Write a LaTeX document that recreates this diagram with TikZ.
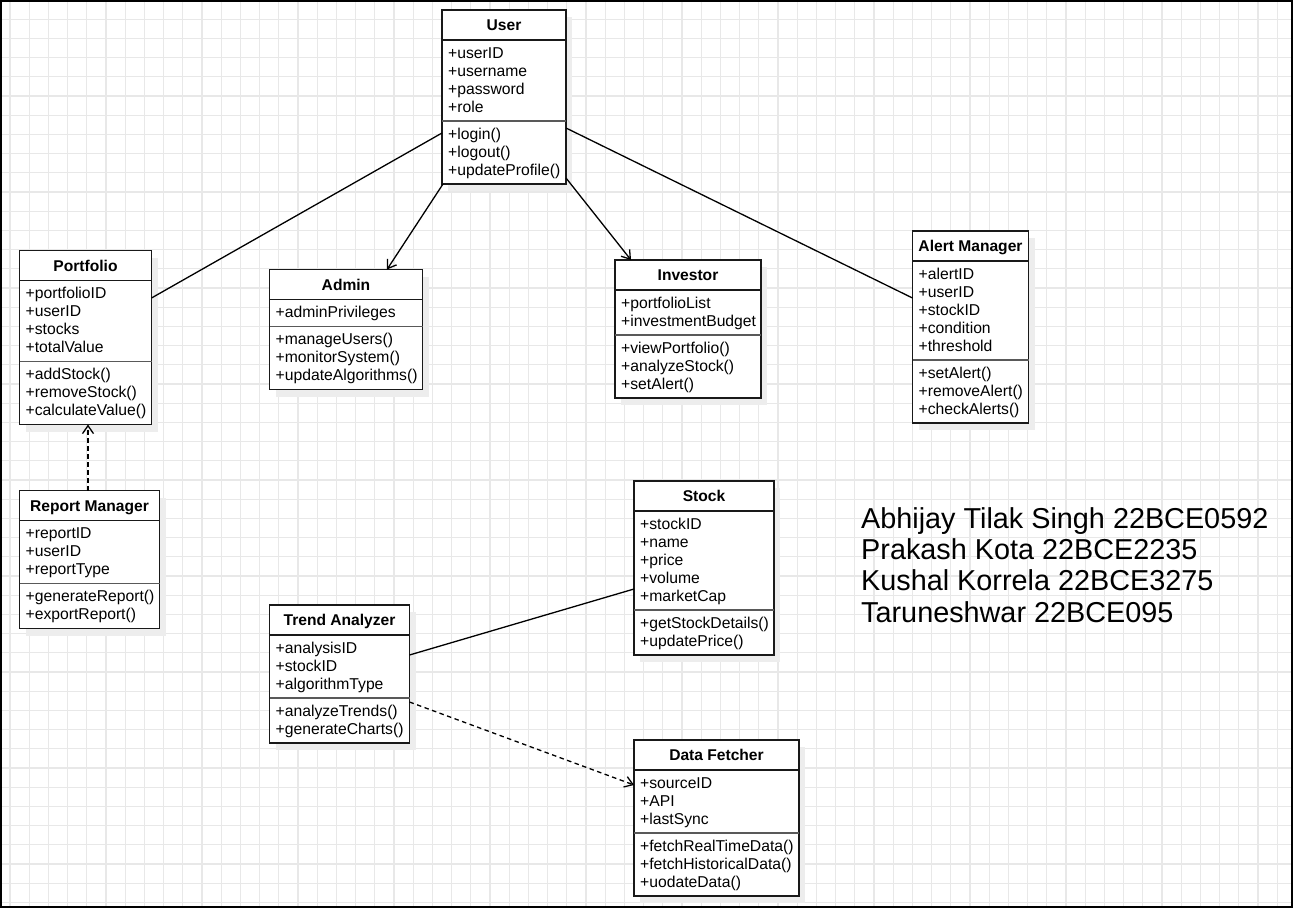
\documentclass[tikz,border=0pt]{standalone}
\usepackage{fontspec}
\setmainfont{Liberation Sans}
\usetikzlibrary{calc,arrows.meta}
\tikzset{
  gridline/.style={draw=black!9, line width=1.2pt},
  frameline/.style={draw=black, line width=1.6pt},
  boxshade/.style={fill=black!7},
  classbox/.style={draw=black!90, fill=white, line width=1.4pt, inner sep=0pt, outer sep=0pt},
  hdiv/.style={draw=black!90, line width=1.3pt},
  mdiv/.style={draw=black!65, line width=1.6pt},
  classtitle/.style={font=\bfseries\fontsize{15.6}{18}\selectfont, anchor=base, inner sep=0pt},
  classtext/.style={font=\fontsize{15.7}{18}\selectfont, anchor=base west, inner sep=0pt},
  nametext/.style={font=\fontsize{28.8}{31}\selectfont, anchor=base west, inner sep=0pt},
  conn/.style={draw=black, line width=1.3pt},
  openarrow/.style={-{Straight Barb[length=8pt,width=11pt]}},
  dashedconn/.style={dash pattern=on 4.5pt off 3.5pt},
}
\newcommand{\umlclass}[9]{%
  \pgfmathsetmacro{\ha}{18*#7+9}%
  \pgfmathsetmacro{\hm}{18*#9+9}%
  \pgfmathsetmacro{\htot}{30+\ha+\hm}%
  \fill[boxshade] ({#2+6},{#3+7}) rectangle ++(#4,\htot);
  \node[classbox, minimum width=#4pt, minimum height=\htot pt, anchor=north west] (#1) at (#2,#3) {};
  \draw[hdiv] ($(#1.north west)+(0,30)$) -- ($(#1.north east)+(0,30)$);
  \draw[mdiv] ($(#1.north west)+(0,30+\ha)$) -- ($(#1.north east)+(0,30+\ha)$);
  \node[classtitle] (#1-title) at ($(#1.north)+(0,20.8)$) {#5};
  \foreach \t [count=\i] in {#6} {\node[classtext] (#1-a\i) at ($(#1.north west)+(6,{48.2+18*(\i-1)})$) {\t};}
  \foreach \t [count=\i] in {#8} {\node[classtext] (#1-m\i) at ($(#1.north west)+(6,{48.2+\ha+18*(\i-1)})$) {\t};}
}
\begin{document}
\begin{tikzpicture}[x=1pt,y=-1pt]
\useasboundingbox (0,0) rectangle (1293,908);
\fill[white] (0,0) rectangle (1293,908);
% grid
\foreach \k in {0,...,66} {\draw[gridline] ({10+19.2*\k},0) -- ({10+19.2*\k},908);}
\foreach \k in {1,...,47} {\draw[gridline] (0,{19.2*\k}) -- (1293,{19.2*\k});}
\draw[frameline] (0.8,0.8) rectangle (1292.2,907.2);

% classes
\umlclass{user}{442}{10}{124}{User}{+userID,+username,+password,+role}{4}{+login(),+logout(),+updateProfile()}{3}
\umlclass{portfolio}{19.5}{250.5}{132}{Portfolio}{+portfolioID,+userID,+stocks,+totalValue}{4}{+addStock(),+removeStock(),+calculateValue()}{3}
\umlclass{admin}{269.5}{269.5}{153}{Admin}{+adminPrivileges}{1}{+manageUsers(),+monitorSystem(),+updateAlgorithms()}{3}
\umlclass{investor}{615}{260}{146}{Investor}{+portfolioList,+investmentBudget}{2}{+viewPortfolio(),+analyzeStock(),+setAlert()}{3}
\umlclass{alert}{912.5}{231}{116}{Alert Manager}{+alertID,+userID,+stockID,+condition,+threshold}{5}{+setAlert(),+removeAlert(),+checkAlerts()}{3}
\umlclass{report}{19.5}{490.5}{140}{Report Manager}{+reportID,+userID,+reportType}{3}{+generateReport(),+exportReport()}{2}
\umlclass{stock}{634}{481}{140}{Stock}{+stockID,+name,+price,+volume,+marketCap}{5}{+getStockDetails(),+updatePrice()}{2}
\umlclass{trend}{269.5}{605}{140}{Trend Analyzer}{+analysisID,+stockID,+algorithmType}{3}{+analyzeTrends(),+generateCharts()}{2}
\umlclass{fetcher}{634}{740}{165}{Data Fetcher}{+sourceID,+API,+lastSync}{3}{+fetchRealTimeData(),+fetchHistoricalData(),+uodateData()}{3}

% connectors
\draw[conn] ($(user.north west)+(0,123)$) -- ($(portfolio.north east)+(0,47.5)$);
\draw[conn, openarrow] ($(user.south west)+(1,0)$) -- ($(admin.north west)+(117.5,0)$);
\draw[conn, openarrow] ($(user.north east)+(0,168)$) -- ($(investor.north west)+(16,0)$);
\draw[conn] ($(user.north east)+(0,118)$) -- ($(alert.north west)+(0,67)$);
\draw[conn, dashedconn, openarrow] ($(report.north west)+(68.5,0)$) -- ($(portfolio.south west)+(68.5,0)$);
\draw[conn] ($(trend.north east)+(0,50)$) -- ($(stock.north west)+(0,108)$);
\draw[conn, dashedconn, openarrow] ($(trend.north east)+(0,97)$) -- ($(fetcher.north west)+(0,45)$);

% names
\node[nametext] (name1) at (861,528.3) {Abhijay Tilak Singh 22BCE0592};
\node[nametext] (name2) at (861,559.6) {Prakash Kota 22BCE2235};
\node[nametext] (name3) at (861,590.9) {Kushal Korrela 22BCE3275};
\node[nametext] (name4) at (861,622.2) {Taruneshwar 22BCE095};
\end{tikzpicture}
\end{document}
